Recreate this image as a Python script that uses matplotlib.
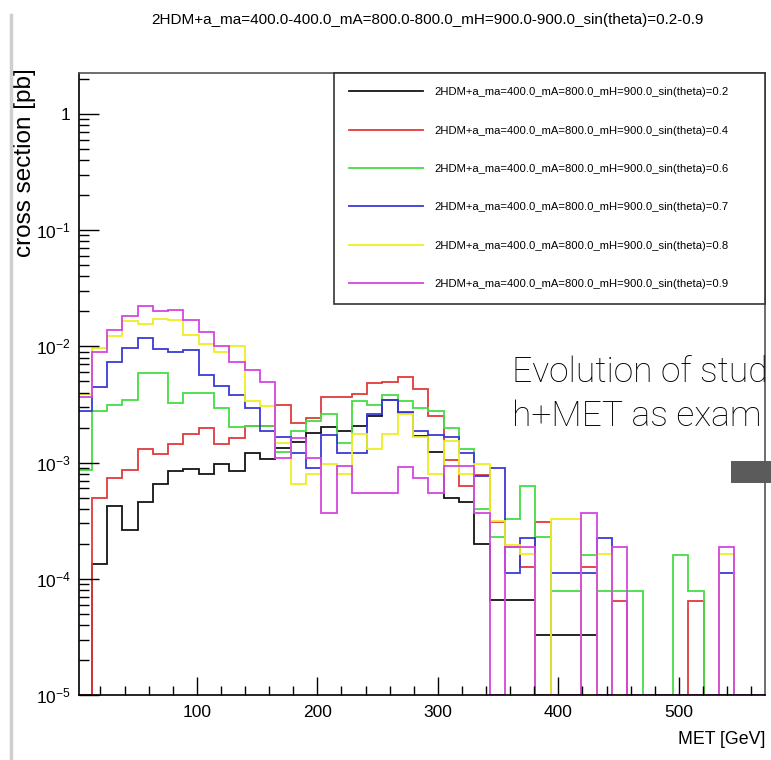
import numpy as np
import matplotlib
matplotlib.use('Agg')
import matplotlib.pyplot as plt
from matplotlib.ticker import FixedLocator, NullFormatter
from matplotlib.patches import Rectangle
from matplotlib.lines import Line2D

plt.rcParams['font.family'] = ['Liberation Sans', 'DejaVu Sans']
plt.rcParams['mathtext.fontset'] = 'custom'
plt.rcParams['mathtext.rm'] = 'Liberation Sans'
plt.rcParams['mathtext.it'] = 'Liberation Sans:italic'
plt.rcParams['mathtext.bf'] = 'Liberation Sans:bold'

### MET binning (45 bins, 12.7 GeV wide)
bin_width = 12.7
n_bins = 45
edges = np.arange(n_bins + 1) * bin_width

sin_theta = ['0.2', '0.4', '0.6', '0.7', '0.8', '0.9']
colors = ['#151515', '#e23a3a', '#45dd45', '#3a3ad6', '#eeee22', '#d445e0']

# cross section [pb] per MET bin
xs_02 = [0, 1.33e-4, 4.25e-4, 2.64e-4, 4.6e-4, 6.5e-4, 8.5e-4, 8.8e-4, 7.9e-4, 9.8e-4,
         8.5e-4, 1.22e-3, 1.07e-3, 1.34e-3, 1.5e-3, 1.81e-3, 2.03e-3, 1.87e-3, 2.08e-3, 2.5e-3,
         3.42e-3, 2.68e-3, 1.69e-3, 1.24e-3, 5.0e-4, 4.6e-4, 2.0e-4, 6.6e-5, 6.6e-5, 6.6e-5,
         3.3e-5, 3.3e-5, 3.3e-5, 3.3e-5, 0, 0, 0, 0, 0, 0,
         0, 0, 0, 0, 0]
xs_04 = [0, 5.0e-4, 7.4e-4, 8.65e-4, 1.3e-3, 1.19e-3, 1.44e-3, 1.77e-3, 1.97e-3, 1.44e-3,
         1.64e-3, 2.06e-3, 2.07e-3, 3.12e-3, 2.2e-3, 2.4e-3, 3.65e-3, 3.7e-3, 3.9e-3, 4.84e-3,
         4.97e-3, 5.4e-3, 4.3e-3, 2.54e-3, 1.06e-3, 6.3e-4, 7.8e-4, 3.1e-4, 1.87e-4, 1.26e-4,
         3.1e-4, 0, 0, 1.26e-4, 0, 6.4e-5, 0, 0, 0, 0,
         6.4e-5, 0, 0, 0, 0]
xs_06 = [8.7e-4, 2.77e-3, 3.15e-3, 3.42e-3, 5.9e-3, 5.9e-3, 3.26e-3, 4.0e-3, 4.0e-3, 2.96e-3,
         2.02e-3, 2.05e-3, 2.05e-3, 1.24e-3, 1.87e-3, 2.3e-3, 2.62e-3, 1.48e-3, 3.37e-3, 3.12e-3,
         3.85e-3, 3.37e-3, 2.92e-3, 2.77e-3, 1.99e-3, 1.32e-3, 4.0e-4, 2.3e-4, 3.27e-4, 6.3e-4,
         2.3e-4, 7.9e-5, 7.9e-5, 1.6e-4, 7.9e-5, 7.9e-5, 7.9e-5, 0, 0, 1.6e-4,
         7.9e-5, 0, 0, 0, 0]
xs_07 = [2.77e-3, 4.5e-3, 7.4e-3, 9.7e-3, 1.19e-2, 9.5e-3, 9.0e-3, 9.35e-3, 5.7e-3, 4.6e-3,
         3.85e-3, 2.96e-3, 1.87e-3, 1.66e-3, 1.22e-3, 9.0e-4, 1.73e-3, 1.22e-3, 1.22e-3, 2.6e-3,
         3.44e-3, 2.7e-3, 1.87e-3, 1.73e-3, 1.66e-3, 1.22e-3, 7.7e-4, 9.0e-4, 1.12e-4, 2.24e-4,
         0, 1.12e-4, 1.12e-4, 1.12e-4, 2.24e-4, 0, 0, 0, 0, 0,
         0, 0, 1.12e-4, 0, 0]
xs_08 = [3.9e-3, 9.7e-3, 1.22e-2, 1.66e-2, 1.56e-2, 1.71e-2, 1.67e-2, 1.26e-2, 1.04e-2, 9.0e-3,
         1.0e-2, 3.37e-3, 3.05e-3, 1.48e-3, 6.5e-4, 8.0e-4, 9.8e-4, 8.0e-4, 1.77e-3, 1.32e-3,
         1.77e-3, 2.6e-3, 1.66e-3, 8.0e-4, 1.53e-3, 8.0e-4, 9.8e-4, 3.16e-4, 1.95e-4, 1.64e-4,
         0, 3.27e-4, 3.27e-4, 0, 1.64e-4, 0, 0, 0, 0, 0,
         0, 0, 1.64e-4, 0, 0]
xs_09 = [3.65e-3, 8.9e-3, 1.39e-2, 1.83e-2, 2.23e-2, 2.03e-2, 2.06e-2, 1.67e-2, 1.32e-2, 1.0e-2,
         7.4e-3, 6.3e-3, 4.9e-3, 1.1e-3, 1.64e-3, 1.1e-3, 3.7e-4, 9.35e-4, 5.5e-4, 5.5e-4,
         5.5e-4, 9.2e-4, 7.4e-4, 5.5e-4, 9.3e-4, 9.3e-4, 3.7e-4, 0, 1.87e-4, 1.87e-4,
         0, 0, 0, 3.7e-4, 0, 1.87e-4, 0, 0, 0, 0,
         0, 0, 1.87e-4, 0, 0]
series = [xs_02, xs_04, xs_06, xs_07, xs_08, xs_09]

y_min, y_max = 1e-5, 2.26
x_min, x_max = 2.2, 571.5
y_major = [1e-5, 1e-4, 1e-3, 1e-2, 1e-1, 1]
y_major_labels = ['$10^{-5}$', '$10^{-4}$', '$10^{-3}$', '$10^{-2}$', '$10^{-1}$', '1']
x_major = [100, 200, 300, 400, 500]

title = '2HDM+a_ma=400.0-400.0_mA=800.0-800.0_mH=900.0-900.0_sin(theta)=0.2-0.9'
label_fmt = '2HDM+a_ma=400.0_mA=800.0_mH=900.0_sin(theta)={}'

### plot
fig = plt.figure(figsize=(7.71, 7.60), dpi=100)
ax = fig.add_axes([0.1025, 0.0855, 0.8897, 0.8188])

for vals, col, s in zip(series, colors, sin_theta):
    v = np.asarray(vals, dtype=float)
    v = np.where(v > 0, v, y_min)   # empty bins drawn on the frame, like ROOT
    ax.stairs(v, edges, baseline=y_min, fill=False, color=col, lw=1.3,
              label=label_fmt.format(s))

ax.set_yscale('log')
ax.set_xlim(x_min, x_max)
ax.set_ylim(y_min, y_max)

ax.yaxis.set_major_locator(FixedLocator(y_major))
ax.set_yticklabels(y_major_labels)
minor_y = [m * 10.0 ** e for e in range(-5, 1) for m in range(2, 10)]
ax.yaxis.set_minor_locator(FixedLocator(minor_y))
ax.yaxis.set_minor_formatter(NullFormatter())
ax.xaxis.set_major_locator(FixedLocator(x_major))
ax.xaxis.set_minor_locator(FixedLocator(np.arange(20, 571, 20)))

ax.tick_params(axis='both', which='both', direction='in', top=False, right=False,
               colors='black', width=1.0)
ax.tick_params(axis='y', which='major', length=14.5, pad=6, labelsize=12.5)
ax.tick_params(axis='y', which='minor', length=7.2)
ax.tick_params(axis='x', which='major', length=13, pad=7, labelsize=12.5)
ax.tick_params(axis='x', which='minor', length=6.5)

for side in ['left', 'bottom']:
    ax.spines[side].set_color('black')
    ax.spines[side].set_linewidth(1.2)
for side in ['top', 'right']:
    ax.spines[side].set_color('#555555')
    ax.spines[side].set_linewidth(1.2)

ax.set_xlabel('MET [GeV]', fontsize=12.8, ha='right')
ax.xaxis.set_label_coords(1.0, -0.058)
ax.set_ylabel('cross section [pb]', fontsize=17.5, ha='right')
ax.yaxis.set_label_coords(-0.063, 1.008)

fig.text(427 / 771, 1 - 20 / 760, title, ha='center', va='center', fontsize=11)

leg = ax.legend(loc='upper right', bbox_to_anchor=(0.3717, 0.0, 0.6283, 1.0),
                mode='expand', borderaxespad=0, fontsize=8.15, handlelength=6.6,
                handletextpad=0.97, labelspacing=2.5, borderpad=1.3,
                fancybox=False, framealpha=1)
leg.get_frame().set_edgecolor('#333333')
leg.get_frame().set_linewidth(1.2)

# slide overlay: left border, text and arrow shaft
fig.add_artist(Line2D([10.5 / 771, 10.5 / 771], [0, 1 - 15 / 760], color='#cfcfcf', lw=2.5))
fig.text(512 / 771, 1 - 381.7 / 760, 'Evolution of stud', fontsize=25.5,
         family=['Roboto', 'DejaVu Sans'], fontweight='light', va='baseline')
fig.text(512 / 771, 1 - 426 / 760, 'h+MET as exam', fontsize=25.5,
         family=['Roboto', 'DejaVu Sans'], fontweight='light', va='baseline')
fig.add_artist(Rectangle((730.7 / 771, 1 - 483.3 / 760), 41 / 771, 22.6 / 760,
                         transform=fig.transFigure, color='#5b5b5b', lw=0))

fig.savefig('out.png', dpi=100)
